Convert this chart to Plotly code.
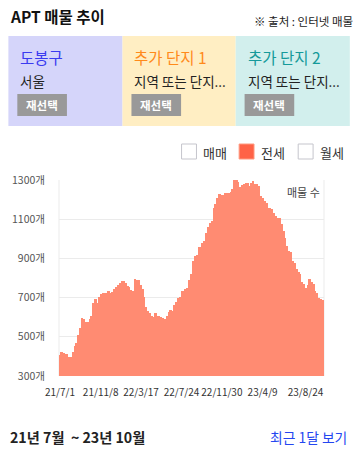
import datetime as dt
import plotly.graph_objects as go

# ---- data ----
start_date = dt.date(2021, 7, 1)
step_days = 6
listing_counts = [
    406, 420, 415, 410, 410, 397, 397, 423, 455, 466,
    509, 546, 594, 589, 575, 575, 589, 608, 671, 693,
    674, 705, 719, 726, 722, 725, 732, 725, 731, 745,
    753, 765, 777, 784, 786, 774, 760, 753, 738, 736,
    794, 791, 790, 765, 743, 705, 651, 630, 620, 608,
    599, 620, 606, 606, 599, 594, 591, 606, 628, 637,
    633, 663, 679, 697, 705, 736, 733, 743, 748, 790,
    821, 888, 910, 919, 956, 956, 979, 987, 1030, 1059,
    1081, 1090, 1158, 1179, 1210, 1227, 1222, 1222, 1235, 1232,
    1232, 1240, 1252, 1298, 1303, 1292, 1264, 1274, 1278, 1287,
    1287, 1269, 1287, 1295, 1282, 1282, 1269, 1218, 1206, 1192,
    1181, 1158, 1158, 1150, 1133, 1115, 1104, 1107, 1073, 1038,
    1005, 962, 936, 935, 885, 876, 847, 833, 820, 779,
    769, 751, 765, 796, 782, 769, 734, 722, 700, 693,
    688,
]
dates = [start_date + dt.timedelta(days=step_days * i) for i in range(len(listing_counts))]

x_tick_dates = [dt.date(2021, 7, 1), dt.date(2021, 11, 8), dt.date(2022, 3, 17),
                dt.date(2022, 7, 24), dt.date(2022, 11, 30), dt.date(2023, 4, 9),
                dt.date(2023, 8, 24)]
x_tick_labels = ["21/7/1", "21/11/8", "22/3/17", "22/7/24", "22/11/30", "23/4/9", "23/8/24"]
y_tick_vals = [300, 500, 700, 900, 1100, 1300]
y_tick_labels = [f"{v}개" for v in y_tick_vals]

box_titles = ["도봉구", "추가 단지 1", "추가 단지 2"]
box_subtitles = ["서울", "지역 또는 단지...", "지역 또는 단지..."]
legend_labels = ["매매", "전세", "월세"]

# ---- layout geometry ----
W, H = 358, 449
ML, MR, MT, MB = 57, 34, 180, 73
PW, PH = W - ML - MR, H - MT - MB

def px(x):
    return (x - ML) / PW

def py(y):
    return (H - MB - y) / PH

FONT = "Noto Sans CJK KR, Noto Sans, sans-serif"
BAR_COLOR = "#ff8b72"

fig = go.Figure()
fig.add_trace(go.Bar(
    x=dates, y=listing_counts, marker=dict(color=BAR_COLOR, line=dict(width=0)),
    width=step_days * 86400000, hoverinfo="x+y",
))

x_start = start_date - dt.timedelta(days=3)
x_end = dates[-1] + dt.timedelta(days=3)

fig.update_layout(
    width=W, height=H,
    margin=dict(l=ML, r=MR, t=MT, b=MB, pad=0),
    paper_bgcolor="white", plot_bgcolor="white",
    showlegend=False, bargap=0,
    font=dict(family=FONT, color="#333"),
    xaxis=dict(
        type="date", range=[x_start, x_end],
        tickvals=x_tick_dates, ticktext=x_tick_labels, tickangle=0,
        tickfont=dict(size=10, color="#333"), ticks="", showgrid=False,
        showline=False, zeroline=False, ticklabelstandoff=9,
    ),
    yaxis=dict(
        range=[300, 1300], tickvals=y_tick_vals, ticktext=y_tick_labels,
        tickfont=dict(size=10.5, color="#555"), ticks="",
        showgrid=True, gridcolor="#ebebeb", gridwidth=1,
        showline=False, zeroline=False, ticklabelstandoff=13,
    ),
)

shapes = []
annotations = []

# plot left/right edge lines
for xe in (0, 1):
    shapes.append(dict(type="line", xref="paper", yref="paper", x0=xe, x1=xe, y0=0, y1=1,
                       line=dict(color="#ebebeb", width=1), layer="below"))

# header
annotations.append(dict(text="<b>APT 매물 추이</b>", x=px(6), y=py(16), xref="paper", yref="paper",
                        xanchor="left", yanchor="middle", showarrow=False,
                        font=dict(size=15.5, color="#111", family=FONT)))
annotations.append(dict(text="※ 출처 : 인터넷 매물", x=px(355), y=py(21), xref="paper", yref="paper",
                        xanchor="right", yanchor="middle", showarrow=False,
                        font=dict(size=11.5, color="#222", family=FONT)))

# selection boxes
box_x = [(6, 121), (121, 235), (235, 350)]
box_bg = ["#d5d5fa", "#ffeec3", "#d2efed"]
title_colors = ["#3b3bf0", "#ff8a1a", "#159a9a"]
for i, (x0, x1) in enumerate(box_x):
    shapes.append(dict(type="rect", xref="paper", yref="paper", x0=px(x0), x1=px(x1),
                       y0=py(126), y1=py(36), fillcolor=box_bg[i], line=dict(width=0), layer="below"))
    tx = x0 + 10
    annotations.append(dict(text=box_titles[i], x=px(tx), y=py(57), xref="paper", yref="paper",
                            xanchor="left", yanchor="middle", showarrow=False,
                            font=dict(size=15.5, color=title_colors[i], family=FONT)))
    annotations.append(dict(text=box_subtitles[i], x=px(tx), y=py(81), xref="paper", yref="paper",
                            xanchor="left", yanchor="middle", showarrow=False,
                            font=dict(size=13.5, color="#222", family=FONT)))
    shapes.append(dict(type="rect", xref="paper", yref="paper", x0=px(x0 + 9), x1=px(x0 + 59),
                       y0=py(116), y1=py(94), fillcolor="#999999", line=dict(width=0), layer="below"))
    annotations.append(dict(text="<b>재선택</b>", x=px(x0 + 34), y=py(105), xref="paper", yref="paper",
                            xanchor="center", yanchor="middle", showarrow=False,
                            font=dict(size=11.5, color="white", family=FONT)))

# legend (checkbox style)
leg_sq = [180.5, 238.5, 298]
for i, sx in enumerate(leg_sq):
    checked = (i == 1)
    shapes.append(dict(type="rect", xref="paper", yref="paper", x0=px(sx), x1=px(sx + 15),
                       y0=py(159), y1=py(144),
                       fillcolor="#ff6347" if checked else "white",
                       line=dict(color="#ff9a80" if checked else "#c5c5cc", width=1)))
    annotations.append(dict(text=legend_labels[i], x=px(sx + 20), y=py(152), xref="paper", yref="paper",
                            xanchor="left", yanchor="middle", showarrow=False,
                            font=dict(size=13, color="#333", family=FONT)))

# in-plot label
annotations.append(dict(text="매물 수", x=px(322), y=py(192), xref="paper", yref="paper",
                        xanchor="right", yanchor="middle", showarrow=False,
                        font=dict(size=11, color="#444", family=FONT)))

# footer
annotations.append(dict(text="<b>21년 7월  ~ 23년 10월</b>", x=px(6), y=py(437), xref="paper", yref="paper",
                        xanchor="left", yanchor="middle", showarrow=False,
                        font=dict(size=14.2, color="#222", family=FONT)))
annotations.append(dict(text="최근 1달 보기", x=px(349), y=py(437), xref="paper", yref="paper",
                        xanchor="right", yanchor="middle", showarrow=False,
                        font=dict(size=13.8, color="#2446f0", family=FONT)))

fig.update_layout(shapes=shapes, annotations=annotations)
fig.write_html("out.html", config={"displayModeBar": False},
               post_script="document.body.style.margin='0';")
